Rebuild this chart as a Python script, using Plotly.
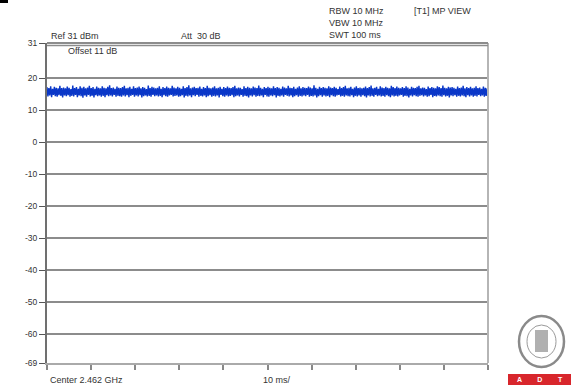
import numpy as np
import plotly.graph_objects as go

# ---- data: max-peak trace samples (dBm), read as a dense noise band ----
level_dbm = [
    17.2,14.3,16.9,14.6,17.5,14.1,16.7,14.8,17.3,14.4,17.0,14.2,16.8,14.7,17.6,14.5,16.9,14.0,17.1,14.6,
    16.8,14.4,17.4,14.7,17.0,14.2,16.6,14.5,17.7,14.3,16.9,14.8,17.2,14.1,16.7,14.6,17.5,14.4,17.0,13.9,
    17.3,14.6,16.8,14.2,17.1,14.8,17.6,14.3,16.9,14.5,17.2,14.0,16.7,14.7,17.4,14.4,17.0,14.6,16.8,14.2,
    17.5,14.5,17.0,14.1,16.8,14.7,17.3,14.4,17.8,14.6,16.9,14.3,17.1,14.8,16.7,14.2,17.4,14.5,17.0,14.4,
    16.9,14.2,17.2,14.6,17.6,14.3,16.8,14.7,17.0,14.1,17.3,14.5,16.7,14.8,17.5,14.2,16.9,14.6,17.1,14.3,
    17.4,14.7,16.8,14.0,17.2,14.4,17.0,14.6,16.6,14.3,17.7,14.5,16.9,14.2,17.3,14.8,17.1,14.4,16.8,14.6,
    17.0,14.3,17.5,14.5,16.7,14.1,17.2,14.7,16.9,14.4,17.4,14.2,17.0,14.6,16.8,14.8,17.6,14.3,17.1,14.5,
    16.8,14.6,17.3,14.2,17.0,14.4,16.7,14.7,17.5,14.0,16.9,14.5,17.2,14.3,17.8,14.6,16.8,14.1,17.1,14.7,
    17.3,14.4,16.9,14.8,17.0,14.2,17.4,14.5,16.7,14.3,17.2,14.6,16.9,14.1,17.6,14.4,17.0,14.7,16.8,14.2,
    17.1,14.5,17.5,14.3,16.8,14.6,17.0,14.0,17.3,14.8,16.7,14.4,17.2,14.2,16.9,14.6,17.4,14.3,17.0,14.5,
    16.9,14.7,17.2,14.1,17.6,14.4,16.8,14.6,17.1,14.3,17.0,14.8,16.6,14.2,17.5,14.5,16.9,14.4,17.3,14.0,
    17.0,14.6,16.8,14.3,17.4,14.7,17.1,14.2,16.9,14.5,17.7,14.4,17.0,14.6,16.7,14.1,17.2,14.8,16.9,14.3,
    17.3,14.2,17.0,14.6,16.8,14.4,17.5,14.7,16.9,14.0,17.2,14.5,17.0,14.3,16.7,14.6,17.4,14.2,17.1,14.8,
    16.8,14.5,17.6,14.3,17.0,14.6,16.9,14.1,17.3,14.4,16.7,14.7,17.1,14.2,17.5,14.5,16.8,14.3,17.2,14.6,
    17.0,14.4,16.9,14.8,17.4,14.2,17.1,14.5,16.8,14.3,17.8,14.6,17.0,14.0,16.7,14.4,17.3,14.7,16.9,14.2,
    17.2,14.6,17.0,14.3,16.8,14.5,17.5,14.1,17.1,14.7,16.9,14.4,17.3,14.2,17.0,14.6,16.6,14.8,17.4,14.3,
    16.9,14.5,17.2,14.2,17.6,14.6,16.8,14.4,17.0,14.3,17.3,14.7,16.7,14.1,17.1,14.5,17.5,14.3,16.9,14.6,
    17.1,14.2,16.8,14.7,17.0,14.4,17.4,14.0,16.9,14.6,17.2,14.3,17.7,14.5,16.8,14.2,17.0,14.8,17.3,14.4,
    16.7,14.6,17.5,14.3,17.1,14.5,16.9,14.2,17.3,14.7,17.0,14.4,16.8,14.1,17.6,14.6,17.2,14.3,16.9,14.5,
    17.4,14.3,17.0,14.6,16.8,14.8,17.2,14.2,16.9,14.5,17.5,14.4,17.1,14.0,16.7,14.6,17.3,14.3,17.0,14.7,
    16.9,14.4,17.3,14.2,17.6,14.5,16.8,14.7,17.1,14.3,17.0,14.6,16.6,14.2,17.4,14.4,16.9,14.8,17.2,14.1,
    17.0,14.5,16.8,14.3,17.5,14.6,17.2,14.4,16.9,14.2,17.7,14.7,17.0,14.3,16.8,14.5,17.3,14.0,17.1,14.6,
    17.2,14.4,17.0,14.7,16.7,14.2,17.4,14.5,16.9,14.3,17.1,14.6,17.6,14.4,16.8,14.1,17.2,14.7,16.9,14.3,
    17.3,14.6,16.8,14.2,17.0,14.5,17.5,14.3,16.9,14.8,17.1,14.4,16.7,14.6,17.4,14.2,17.0,14.5,16.8,14.4,
]
sweep_ms = 100
time_ms = np.linspace(0, sweep_ms, len(level_dbm))

y_tickvals = [31, 20, 10, 0, -10, -20, -30, -40, -50, -60, -69]
y_ticktext = ["31", "20", "10", "0", "-10", "-20", "-30", "-40", "-50", "-60", "-69"]
x_tickvals = [0, 10, 20, 30, 40, 50, 60, 70, 80, 90, 100]

W, H = 577, 387
L, R, T, B = 47, 488, 43, 363

def px(x):
    return (x - L) / (R - L)

def py(y):
    return (B - y) / (B - T)

FONT = "Liberation Sans, Arial, sans-serif"
TXT = "#333333"

fig = go.Figure()
fig.add_trace(go.Scatter(x=time_ms, y=level_dbm, mode="lines",
                         line=dict(color="#0a37c8", width=1.4, simplify=False),
                         hoverinfo="skip", showlegend=False))

fig.update_layout(
    width=W, height=H,
    margin=dict(l=L, r=W - R, t=T, b=H - B),
    paper_bgcolor="white", plot_bgcolor="white",
    font=dict(family=FONT, size=9, color=TXT),
    showlegend=False,
    xaxis=dict(range=[0, 100], tickvals=x_tickvals, showticklabels=False,
               ticks="outside", ticklen=5, tickwidth=2, tickcolor="#888",
               showgrid=False, zeroline=False,
               showline=True, linecolor="#aaaaaa", linewidth=2, mirror=False),
    yaxis=dict(range=[-69, 31], tickvals=y_tickvals, ticktext=y_ticktext,
               ticks="outside", ticklen=6, tickwidth=1, tickcolor="#555",
               tickfont=dict(size=8.5, color=TXT, family=FONT),
               showgrid=True, gridcolor="#8c8c8c", gridwidth=2,
               zeroline=False, showline=True, linecolor="#707070", linewidth=2),
)

shapes = []
# right border
shapes.append(dict(type="line", xref="paper", yref="paper", x0=1, x1=1, y0=0, y1=1,
                   line=dict(color="#b5b5b5", width=2)))
# top double line
shapes.append(dict(type="line", xref="paper", yref="paper", x0=0, x1=1, y0=1, y1=1,
                   line=dict(color="#8c8c8c", width=2)))
shapes.append(dict(type="line", xref="paper", yref="paper", x0=0, x1=1,
                   y0=py(45.5), y1=py(45.5), line=dict(color="#8c8c8c", width=1.5)))
# small black mark top-left
shapes.append(dict(type="rect", xref="paper", yref="paper", x0=px(0), x1=px(8),
                   y0=py(3), y1=py(0), fillcolor="black", line=dict(width=0)))
# logo
shapes.append(dict(type="circle", xref="paper", yref="paper", x0=px(519), x1=px(564),
                   y0=py(367), y1=py(316), line=dict(color="#8a8a8a", width=2.5)))
shapes.append(dict(type="circle", xref="paper", yref="paper", x0=px(527), x1=px(556),
                   y0=py(358), y1=py(325), line=dict(color="#9a9a9a", width=1)))
shapes.append(dict(type="rect", xref="paper", yref="paper", x0=px(535), x1=px(548),
                   y0=py(352), y1=py(330), fillcolor="#b0b0b0", line=dict(width=0)))
shapes.append(dict(type="rect", xref="paper", yref="paper", x0=px(508), x1=px(571),
                   y0=py(385), y1=py(374), fillcolor="#d8262c", line=dict(width=0)))
fig.update_layout(shapes=shapes)

def ann(x, y, text, size=9, color=TXT, xanchor="left"):
    fig.add_annotation(xref="paper", yref="paper", x=px(x), y=py(y), text=text,
                       showarrow=False, xanchor=xanchor, yanchor="middle",
                       font=dict(family=FONT, size=size, color=color))

ann(49, 36, "Ref 31 dBm")
ann(179, 36, "Att  30 dB")
ann(66, 51, "Offset 11 dB")
ann(327, 11, "RBW 10 MHz")
ann(327, 23, "VBW 10 MHz")
ann(327, 35, "SWT 100 ms")
ann(412, 11, "[T1] MP VIEW")
ann(48, 380, "Center 2.462 GHz")
ann(261, 380, "10 ms/")
ann(539.5, 379.5, "<b>A        D        T</b>", size=7, color="white", xanchor="center")

fig.write_html("out.html")
